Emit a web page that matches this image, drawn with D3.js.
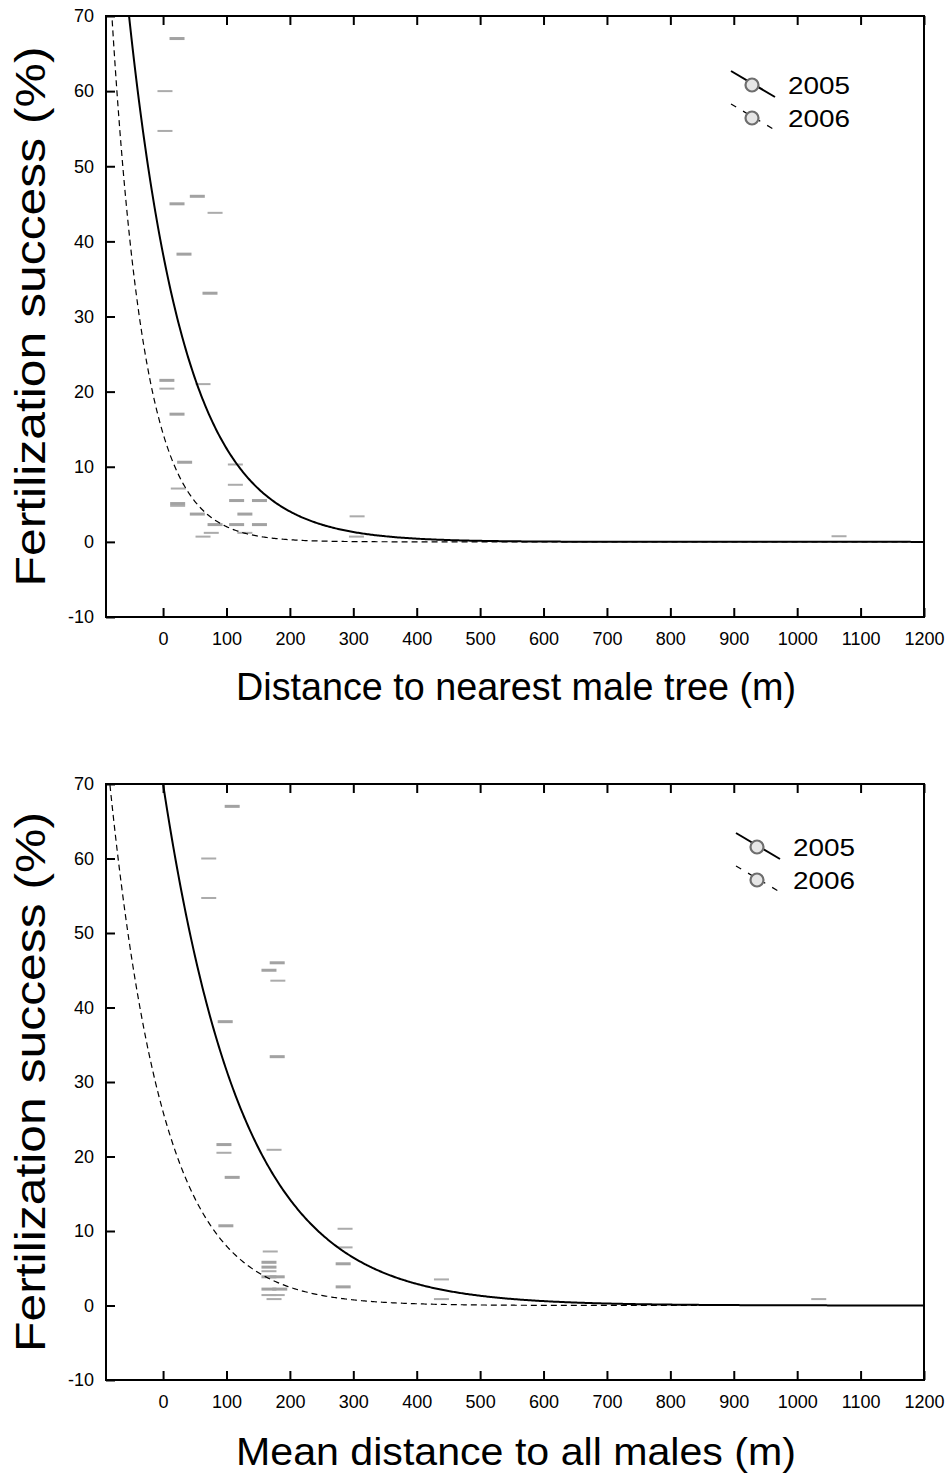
<!DOCTYPE html>
<html>
<head>
<meta charset="utf-8">
<script src="https://cdn.jsdelivr.net/npm/d3@7"></script>
<style>
  body { margin: 0; background: #fff; }
  svg text { font-family: "Liberation Sans", Arial, sans-serif; fill: #000; }
</style>
</head>
<body>
<div id="chart"></div>
<script>
// tick values
var xTicks = [0, 100, 200, 300, 400, 500, 600, 700, 800, 900, 1000, 1100, 1200];
var yTicks = [-10, 0, 10, 20, 30, 40, 50, 60, 70];
var years = ["2005", "2006"];

// top panel: distance to nearest male tree (m), fertilization success (%)
var nearest2005 = [[22, 67], [54, 46], [22, 45], [33, 38.3], [74, 33.1], [6, 21.5], [22, 17],
  [34, 10.6], [23, 5.1], [116, 5.5], [152, 5.5], [54, 3.7], [129, 3.7], [82, 2.3], [116, 2.3], [152, 2.3]];
var nearest2006 = [[3, 60], [3, 54.7], [82, 43.8], [6, 20.4], [63, 21], [114, 10.3], [24, 7.1],
  [114, 7.6], [23, 4.8], [76, 1.2], [63, 0.7], [129, 1.2], [306, 3.4], [305, 0.7], [1066, 0.75]];

// bottom panel: mean distance to all males (m)
var mean2005 = [[109, 67], [180, 46], [167, 45], [98, 38.1], [180, 33.4], [96, 21.6], [109, 17.2],
  [99, 10.7], [167, 5.15], [284, 5.6], [167, 5.8], [167, 3.85], [180, 3.85], [284, 2.5], [167, 2.2], [184, 2.2]];
var mean2006 = [[72, 60], [72, 54.7], [181, 43.6], [96, 20.5], [175, 20.9], [287, 10.3], [169, 7.25],
  [287, 7.8], [167, 4.6], [167, 1.4], [180, 1.4], [175, 0.86], [439, 3.5], [439, 0.86], [1034, 0.86]];

// fitted exponential decay y = a * exp(-b * x), [a, b] per year
var nearestFit = [[38.3, 0.01124], [14.4, 0.0196]];
var meanFit = [[70, 0.00796], [26, 0.0118]];

var svg = d3.select("#chart").append("svg")
  .attr("width", 952)
  .attr("height", 1477);

var x = d3.scaleLinear().domain([-90, 1200]).range([106, 924]);

function drawPanel(opts) {
  var y = d3.scaleLinear().domain([-10, 70]).range([opts.bottom, opts.top]);
  var g = svg.append("g");

  var clipId = "clip" + opts.top;
  svg.append("clipPath").attr("id", clipId)
    .append("rect")
    .attr("x", 106).attr("y", opts.top)
    .attr("width", 818).attr("height", opts.bottom - opts.top);

  // data points (drawn as small grey dashes like in the original)
  var pts = g.append("g").attr("clip-path", "url(#" + clipId + ")");
  pts.selectAll("rect.p5")
    .data(opts.s2005)
    .enter().append("rect")
    .attr("x", d => x(d[0]) - 7.5)
    .attr("y", d => y(d[1]) - 1.5)
    .attr("width", 15)
    .attr("height", 3)
    .attr("fill", "#a2a2a2");
  pts.selectAll("rect.p6")
    .data(opts.s2006)
    .enter().append("rect")
    .attr("x", d => x(d[0]) - 7.5)
    .attr("y", d => y(d[1]) - 1)
    .attr("width", 15)
    .attr("height", 2)
    .attr("fill", "#ababab");

  // fitted curves
  var xs = d3.range(-90, 1200.5, 2);
  var line = d3.line().x(d => x(d[0])).y(d => y(d[1]));
  opts.fit.forEach(function(f, i) {
    var pts2 = xs.map(v => [v, Math.min(f[0] * Math.exp(-f[1] * v), 200)]);
    pts.append("path")
      .datum(pts2)
      .attr("d", line)
      .attr("fill", "none")
      .attr("stroke", "#000")
      .attr("stroke-width", i === 0 ? 2 : 1.2)
      .attr("stroke-dasharray", i === 0 ? null : "6,4");
  });

  // axes
  var fmt = d => String(d);
  var bottomAxis = d3.axisBottom(x).tickValues(xTicks).tickSizeInner(-9).tickSizeOuter(0).tickPadding(15).tickFormat(fmt);
  var topAxis = d3.axisTop(x).tickValues(xTicks).tickSizeInner(-9).tickSizeOuter(0).tickFormat("");
  var leftAxis = d3.axisLeft(y).tickValues(yTicks).tickSizeInner(-9).tickSizeOuter(0).tickPadding(12).tickFormat(fmt);

  var xa = g.append("g").attr("transform", `translate(0, ${opts.bottom})`).call(bottomAxis);
  var ta = g.append("g").attr("transform", `translate(0, ${opts.top})`).call(topAxis);
  var ya = g.append("g").attr("transform", "translate(106, 0)").call(leftAxis);
  [xa, ta, ya].forEach(function(a) {
    a.select(".domain").remove();
    a.selectAll("line").attr("stroke", "#000").attr("stroke-width", 2);
    a.selectAll("text").attr("font-size", 18).attr("font-family", "Liberation Sans, Arial, sans-serif");
  });

  // frame
  g.append("rect")
    .attr("x", 106).attr("y", opts.top)
    .attr("width", 818).attr("height", opts.bottom - opts.top)
    .attr("fill", "none")
    .attr("stroke", "#000")
    .attr("stroke-width", 2);

  // axis titles
  g.append("text")
    .attr("x", 516)
    .attr("y", opts.xLabelY)
    .attr("text-anchor", "middle")
    .attr("font-size", 38)
    .attr("textLength", 560)
    .attr("lengthAdjust", "spacingAndGlyphs")
    .text(opts.xLabel);

  g.append("text")
    .attr("transform", `translate(45, ${(opts.top + opts.bottom) / 2}) rotate(-90)`)
    .attr("text-anchor", "middle")
    .attr("font-size", 42)
    .attr("textLength", 540)
    .attr("lengthAdjust", "spacingAndGlyphs")
    .text("Fertilization success (%)");

  // legend
  var lg = g.append("g").attr("transform", `translate(${opts.legend[0]}, ${opts.legend[1]})`);
  years.forEach(function(yr, i) {
    var row = lg.append("g").attr("transform", `translate(0, ${i * 33})`);
    row.append("line")
      .attr("x1", 0).attr("y1", 0).attr("x2", 44).attr("y2", 26)
      .attr("stroke", "#000")
      .attr("stroke-width", i === 0 ? 2 : 1.2)
      .attr("stroke-dasharray", i === 0 ? null : "6,8");
    row.append("circle")
      .attr("cx", 21).attr("cy", 14).attr("r", 6.5)
      .attr("fill", "#e6e6e6")
      .attr("stroke", "#6e6e6e")
      .attr("stroke-width", 2.2);
    row.append("text")
      .attr("x", 57).attr("y", 23)
      .attr("font-size", 23)
      .attr("textLength", 62)
      .attr("lengthAdjust", "spacingAndGlyphs")
      .text(yr);
  });
}

drawPanel({
  top: 16, bottom: 617,
  s2005: nearest2005, s2006: nearest2006, fit: nearestFit,
  xLabel: "Distance to nearest male tree (m)", xLabelY: 700,
  legend: [731, 71]
});

drawPanel({
  top: 784, bottom: 1380,
  s2005: mean2005, s2006: mean2006, fit: meanFit,
  xLabel: "Mean distance to all males (m)", xLabelY: 1465,
  legend: [736, 833]
});
</script>
</body>
</html>
